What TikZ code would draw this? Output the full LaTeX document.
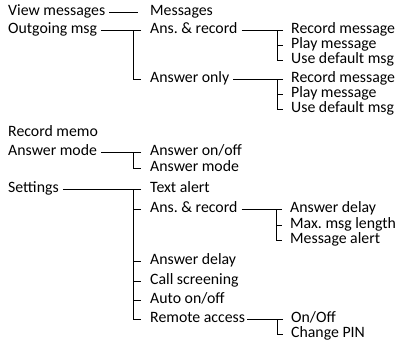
\documentclass[tikz,border=0pt]{standalone}
\usepackage{fontspec}
\setmainfont{Carlito}
\usetikzlibrary{calc}

\begin{document}
\begin{tikzpicture}[x=1pt,y=-1pt,
    item/.style={anchor=west,inner sep=0pt,text height=7.5pt,text depth=0pt,font=\fontsize{15.8}{17}\selectfont},
    link/.style={line width=0.9pt},
  ]
  \useasboundingbox (0,0) rectangle (396,343);
  % first level
  \node[item] (view) at (8,12) {View messages};
  \node[item] (outg) at (8,30) {Outgoing msg};
  \node[item] (memo) at (8,133) {Record memo};
  \node[item] (amod) at (8,152) {Answer mode};
  \node[item] (sett) at (8,189) {Settings};
  % second level
  \node[item] (msgs) at (150,12) {Messages};
  \node[item] (ansr) at (150,30) {Ans.\ \& record};
  \node[item] (only) at (150,79) {Answer only};
  \node[item] (aonf) at (150,152) {Answer on/off};
  \node[item] (amsb) at (150,168) {Answer mode};
  \node[item] (talr) at (150,189) {Text alert};
  \node[item] (sans) at (150,209) {Ans.\ \& record};
  \node[item] (adel) at (150,261) {Answer delay};
  \node[item] (scrn) at (150,281) {Call screening};
  \node[item] (auto) at (150,300) {Auto on/off};
  \node[item] (remo) at (150,319) {Remote access};
  % third level
  \foreach \g/\y in {1/30,2/79} {
    \node[item] (rec\g) at (291,\y) {Record message};
    \node[item] (play\g) at (291,\y+15) {Play message};
    \node[item] (def\g) at (291,\y+30) {Use default msg};
  }
  \node[item] (sdel) at (290,209) {Answer delay};
  \node[item] (mlen) at (290,225) {Max.\ msg length};
  \node[item] (malr) at (290,240) {Message alert};
  \node[item] (ronf) at (291,319) {On/Off};
  \node[item] (rpin) at (291,334) {Change PIN};
  % bracket points
  \coordinate (bout) at (133,30);
  \coordinate (bmod) at (133,152);
  \coordinate (bset) at (133,189);
  \coordinate (brec1) at (277,30);
  \coordinate (brec2) at (277,79);
  \coordinate (bsan) at (276,209);
  \coordinate (brem) at (277,319);
  % connectors
  \draw[link] ($(view.east)+(4,0)$) -- ($(msgs.west)+(-12,0)$);
  \draw[link] ($(outg.east)+(4,0)$) -- (bout);
  \draw[link] ($(ansr.west)+(-9,0)$) -- (bout) |- ($(only.west)+(-9,0)$);
  \draw[link] ($(amod.east)+(4,0)$) -- (bmod);
  \draw[link] ($(aonf.west)+(-9,0)$) -- (bmod) |- ($(amsb.west)+(-9,0)$);
  \draw[link] ($(sett.east)+(4,0)$) -- (bset);
  \draw[link] ($(talr.west)+(-9,0)$) -- (bset) |- ($(remo.west)+(-9,0)$);
  \foreach \c in {sans,adel,scrn,auto} {
    \draw[link] (bset |- \c.west) -- ($(\c.west)+(-9,0)$);
  }
  \foreach \g in {1,2} {
    \draw[link] ($(rec\g.west)+(-8,0)$) -- (brec\g) |- ($(def\g.west)+(-8,0)$);
    \draw[link] (brec\g |- play\g.west) -- ($(play\g.west)+(-8,0)$);
  }
  \draw[link] ($(ansr.east)+(4,0)$) -- (brec1);
  \draw[link] ($(only.east)+(4,0)$) -- (brec2);
  \draw[link] ($(sans.east)+(4,0)$) -- (bsan);
  \draw[link] ($(sdel.west)+(-8,0)$) -- (bsan) |- ($(malr.west)+(-8,0)$);
  \draw[link] (bsan |- mlen.west) -- ($(mlen.west)+(-8,0)$);
  \draw[link] ($(remo.east)+(2,0)$) -- (brem);
  \draw[link] ($(ronf.west)+(-8,0)$) -- (brem) |- ($(rpin.west)+(-8,0)$);
\end{tikzpicture}
\end{document}
